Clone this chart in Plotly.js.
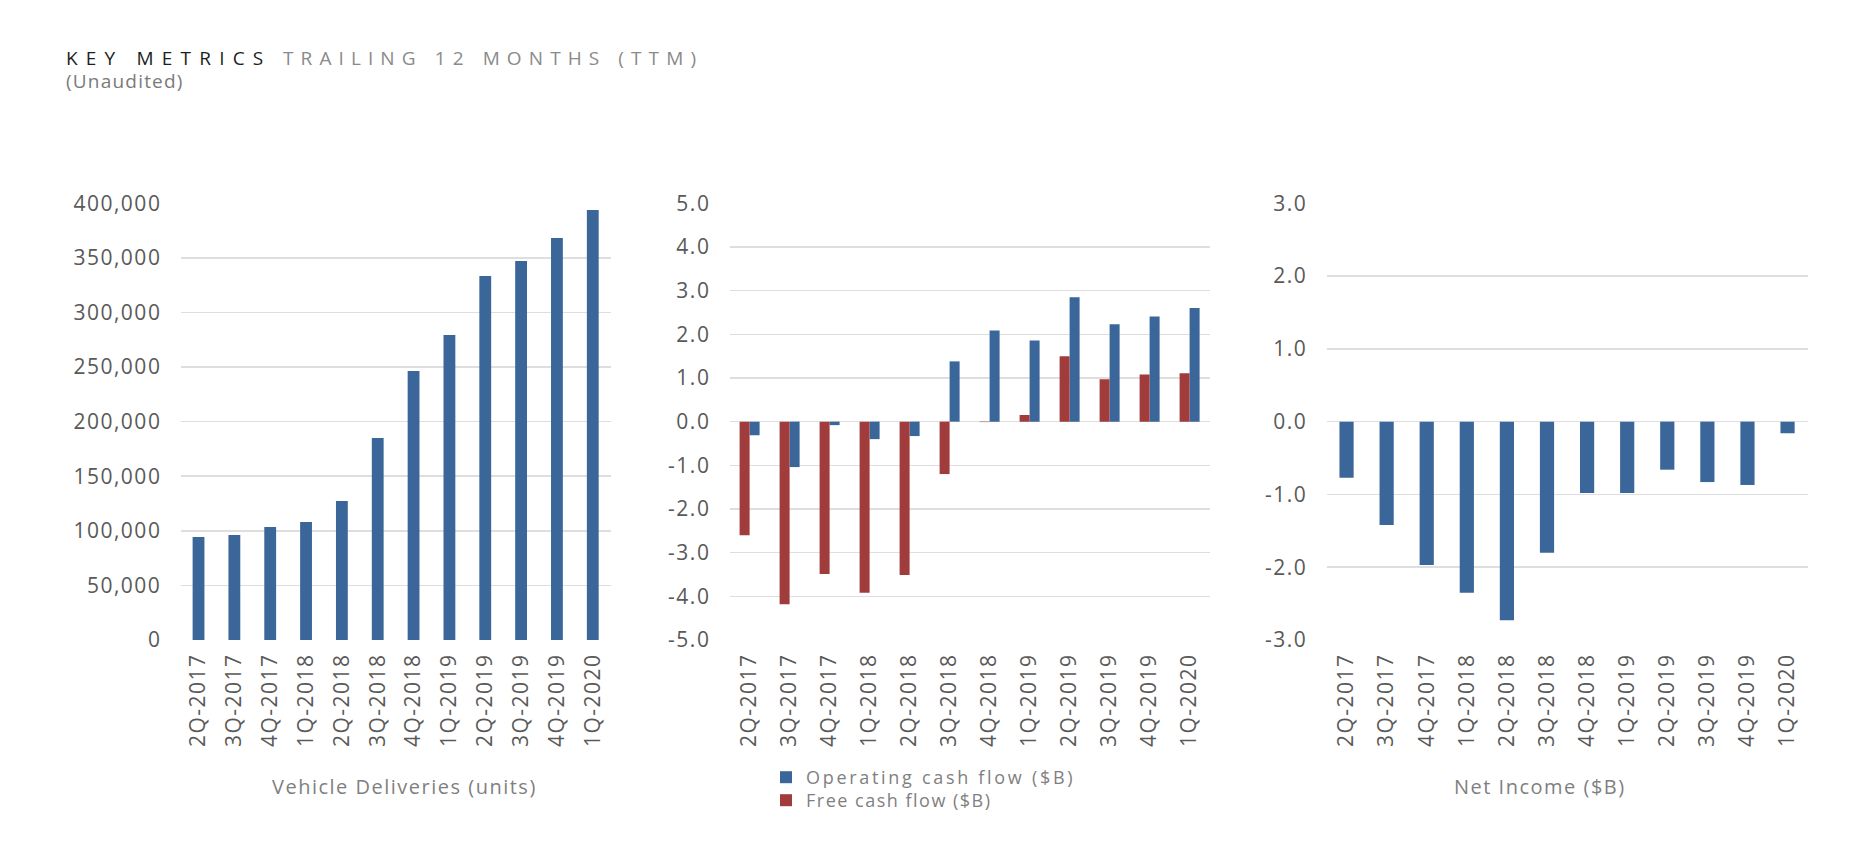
<!DOCTYPE html>
<html>
<head>
<meta charset="utf-8">
<script src="https://cdn.plot.ly/plotly-3.0.1.min.js"></script>
<style>
  html, body { margin: 0; padding: 0; background: #ffffff; }
  #chart { width: 1870px; height: 863px; }
  svg text { letter-spacing: 1.5px; }
  svg text.legendtext { letter-spacing: 2.7px; }
</style>
</head>
<body>
<div id="chart"></div>
<script>
// ---------- data ----------
const quarters = ['2Q-2017','3Q-2017','4Q-2017','1Q-2018','2Q-2018','3Q-2018','4Q-2018','1Q-2019','2Q-2019','3Q-2019','4Q-2019','1Q-2020'];
const deliveries = [94400, 96200, 103500, 108100, 127300, 185000, 246400, 279400, 333400, 347200, 368200, 393900];
const operatingCashFlow = [-0.31, -1.04, -0.08, -0.40, -0.33, 1.38, 2.09, 1.86, 2.85, 2.23, 2.41, 2.60];
const freeCashFlow = [-2.60, -4.18, -3.49, -3.92, -3.51, -1.20, -0.01, 0.15, 1.50, 0.97, 1.08, 1.11];
const netIncome = [-0.77, -1.42, -1.97, -2.35, -2.73, -1.80, -0.98, -0.98, -0.66, -0.83, -0.87, -0.16];

const deliveriesTicks = [0, 50000, 100000, 150000, 200000, 250000, 300000, 350000, 400000];
const deliveriesTickText = ['0','50,000','100,000','150,000','200,000','250,000','300,000','350,000','400,000'];
const cashTicks = [-5, -4, -3, -2, -1, 0, 1, 2, 3, 4, 5];
const cashTickText = ['-5.0','-4.0','-3.0','-2.0','-1.0','0.0','1.0','2.0','3.0','4.0','5.0'];
const incomeTicks = [-3, -2, -1, 0, 1, 2, 3];
const incomeTickText = ['-3.0','-2.0','-1.0','0.0','1.0','2.0','3.0'];

// ---------- layout helpers (pixel geometry) ----------
const W = 1870, H = 863;
const px = v => v / W;
const py = v => 1 - v / H;
const yDom = [py(640), py(203.3)];

const blue = '#3b6699';
const red = '#a03c3c';
const gridColor = '#dedede';

const traces = [
  { type: 'bar', x: quarters, y: deliveries, xaxis: 'x', yaxis: 'y',
    marker: { color: blue }, width: 0.33, showlegend: false },
  { type: 'bar', name: 'Operating cash flow ($B)', x: quarters, y: operatingCashFlow, xaxis: 'x2', yaxis: 'y2',
    marker: { color: blue }, width: 0.25, offset: 0.0, showlegend: true, legend: 'legend' },
  { type: 'bar', name: 'Free cash flow ($B)', x: quarters, y: freeCashFlow, xaxis: 'x2', yaxis: 'y2',
    marker: { color: red }, width: 0.25, offset: -0.25, showlegend: true, legend: 'legend2' },
  { type: 'bar', x: quarters, y: netIncome, xaxis: 'x3', yaxis: 'y3',
    marker: { color: blue }, width: 0.354, showlegend: false }
];

const xCommon = {
  type: 'category', tickangle: -90, showgrid: false, zeroline: false, showline: false,
  ticks: 'outside', ticklen: 4, tickcolor: 'rgba(0,0,0,0)', fixedrange: true,
  tickfont: { family: 'Open Sans', size: 21, color: '#595959' }
};
const yCommon = {
  showgrid: true, gridcolor: gridColor, gridwidth: 1.5, zeroline: false, showline: false,
  ticks: 'outside', ticklen: 14, tickcolor: 'rgba(0,0,0,0)', tickmode: 'array', fixedrange: true,
  tickfont: { family: 'Open Sans', size: 21, color: '#595959' }
};

const legendCommon = {
  xanchor: 'left', yanchor: 'top', orientation: 'v', bgcolor: 'rgba(0,0,0,0)',
  font: { family: 'Open Sans', size: 18, color: '#7f7f7f' }, itemwidth: 30
};

const layout = {
  width: W, height: H,
  margin: { l: 0, r: 0, t: 0, b: 0 },
  paper_bgcolor: '#ffffff', plot_bgcolor: '#ffffff',
  font: { family: 'Open Sans', size: 20, color: '#595959' },
  barmode: 'overlay',
  xaxis: Object.assign({}, xCommon, { domain: [px(180.6), px(610.7)], anchor: 'y' }),
  yaxis: Object.assign({}, yCommon, { domain: yDom, anchor: 'x', range: [0, 400000],
    tickvals: deliveriesTicks, ticktext: deliveriesTickText }),
  xaxis2: Object.assign({}, xCommon, { domain: [px(729.6), px(1209.6)], anchor: 'y2' }),
  yaxis2: Object.assign({}, yCommon, { domain: yDom, anchor: 'x2', range: [-5, 5],
    tickvals: cashTicks, ticktext: cashTickText }),
  xaxis3: Object.assign({}, xCommon, { domain: [px(1326.5), px(1807.6)], anchor: 'y3' }),
  yaxis3: Object.assign({}, yCommon, { domain: yDom, anchor: 'x3', range: [-3, 3],
    tickvals: incomeTicks, ticktext: incomeTickText }),
  showlegend: true,
  legend: Object.assign({}, legendCommon, { x: px(766), y: py(759) }),
  legend2: Object.assign({}, legendCommon, { x: px(766), y: py(782) }),
  annotations: [
    { xref: 'paper', yref: 'paper', x: px(64), y: py(58.5), xanchor: 'left', yanchor: 'middle',
      showarrow: false, align: 'left',
      font: { family: 'Open Sans', size: 19, color: '#1e1e1e' },
      text: '<span style="letter-spacing:8.2px">KEY METRICS</span>' },
    { xref: 'paper', yref: 'paper', x: px(281), y: py(58.5), xanchor: 'left', yanchor: 'middle',
      showarrow: false, align: 'left',
      font: { family: 'Open Sans', size: 19, color: '#8a8a8a' },
      text: '<span style="letter-spacing:7.1px">TRAILING 12 MONTHS (TTM)</span>' },
    { xref: 'paper', yref: 'paper', x: px(64), y: py(81), xanchor: 'left', yanchor: 'middle',
      showarrow: false, align: 'left',
      font: { family: 'Open Sans', size: 19, color: '#7a7a7a' },
      text: '<span style="letter-spacing:1.2px">(Unaudited)</span>' },
    { xref: 'paper', yref: 'paper', x: px(404), y: py(786), xanchor: 'center', yanchor: 'middle',
      showarrow: false, font: { family: 'Open Sans', size: 20, color: '#7f7f7f' },
      text: 'Vehicle Deliveries (units)' },
    { xref: 'paper', yref: 'paper', x: px(1540), y: py(786), xanchor: 'center', yanchor: 'middle',
      showarrow: false, font: { family: 'Open Sans', size: 20, color: '#7f7f7f' },
      text: 'Net Income ($B)' }
  ]
};

Plotly.newPlot('chart', traces, layout, { displayModeBar: false, staticPlot: true });
</script>
</body>
</html>
